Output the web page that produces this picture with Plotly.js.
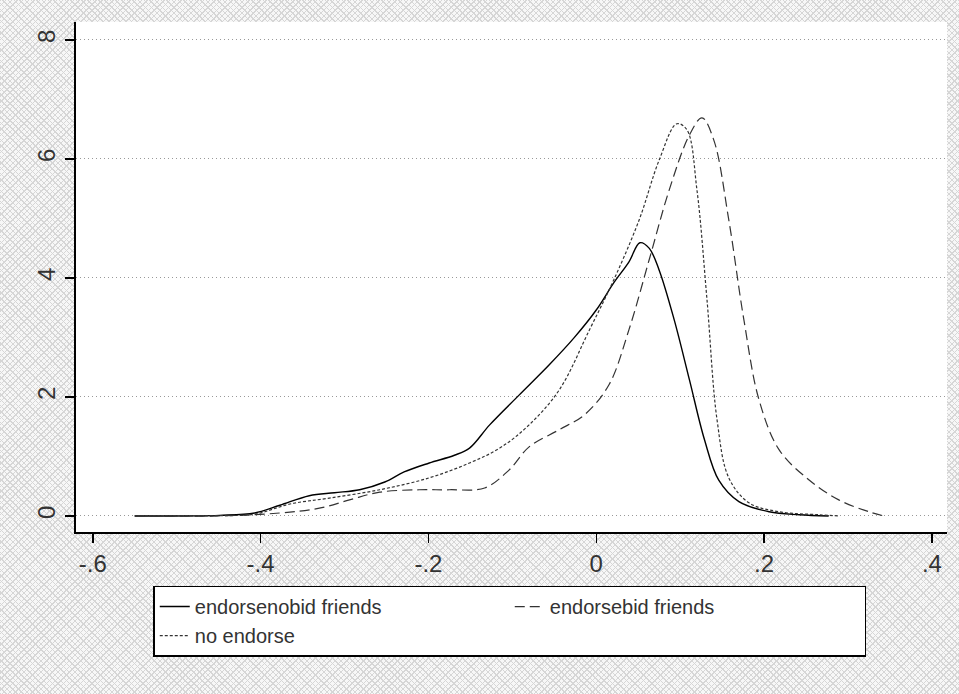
<!DOCTYPE html>
<html><head><meta charset="utf-8">
<script src="https://cdn.plot.ly/plotly-3.0.1.min.js"></script>
<style>
html,body{margin:0;padding:0;}
body{width:959px;height:694px;background-color:#f7f7f7;
background-image:repeating-linear-gradient(45deg,#d6d6d6 0 1px,transparent 1px 4px),repeating-linear-gradient(-45deg,#d6d6d6 0 1px,transparent 1px 4px);}
#chart{width:959px;height:694px;}
</style></head><body>
<div id="chart"></div>
<script>
// kernel density estimates
const nobidX = [-0.55,-0.449,-0.407,-0.377,-0.342,-0.312,-0.282,-0.252,-0.229,-0.199,-0.169,-0.151,-0.127,-0.092,-0.056,-0.026,0,0.021,0.039,0.052,0.063,0.075,0.093,0.111,0.129,0.146,0.17,0.206,0.242,0.277];
const nobidY = [0,0.01,0.05,0.18,0.34,0.39,0.44,0.57,0.74,0.89,1.02,1.14,1.53,2.03,2.54,3.0,3.46,3.92,4.27,4.59,4.5,4.13,3.29,2.29,1.28,0.6,0.24,0.07,0.02,0];
const bidX = [-0.55,-0.45,-0.377,-0.33,-0.294,-0.258,-0.211,-0.175,-0.133,-0.104,-0.08,-0.044,-0.014,0.015,0.039,0.063,0.087,0.111,0.126,0.14,0.158,0.176,0.194,0.218,0.254,0.289,0.325,0.343];
const bidY = [0,0.0,0.05,0.13,0.27,0.4,0.44,0.44,0.47,0.77,1.16,1.45,1.7,2.2,3.13,4.3,5.48,6.4,6.69,6.32,4.97,3.29,1.95,1.11,0.6,0.27,0.07,0];
const noX = [-0.55,-0.45,-0.407,-0.365,-0.318,-0.258,-0.199,-0.151,-0.115,-0.08,-0.044,-0.008,0.021,0.051,0.075,0.096,0.108,0.12,0.132,0.144,0.158,0.182,0.218,0.265,0.289];
const noY = [0,0.005,0.03,0.2,0.3,0.44,0.64,0.89,1.14,1.53,2.12,3.13,3.97,4.97,5.98,6.59,6.49,5.48,3.63,1.61,0.64,0.22,0.07,0.02,0];
const xTicks = [-0.6,-0.4,-0.2,0,0.2,0.4];
const xLabels = ['-.6','-.4','-.2','0','.2','.4'];
const yTicks = [0,2,4,6,8];

const traces = [
  {x: nobidX, y: nobidY, name: 'endorsenobid friends', line: {color: '#000', width: 1.4, shape: 'spline', dash: 'solid'}},
  {x: bidX, y: bidY, name: 'endorsebid friends', line: {color: '#333', width: 1.2, shape: 'spline', dash: '10px,5px'}},
  {x: noX, y: noY, name: 'no endorse', line: {color: '#333', width: 1.2, shape: 'spline', dash: '3px,2px'}}
].map(t => Object.assign({type: 'scatter', mode: 'lines'}, t));

const tf = {family: 'Liberation Sans, Arial, sans-serif', size: 24, color: '#333'};
const layout = {
  width: 959, height: 694,
  margin: {l: 76, r: 12, t: 22, b: 162},
  paper_bgcolor: 'rgba(0,0,0,0)',
  plot_bgcolor: '#fff',
  font: {family: 'Liberation Sans, Arial, sans-serif', size: 19, color: '#333'},
  xaxis: {range: [-0.62, 0.418], tickvals: xTicks, ticktext: xLabels, ticks: 'outside', ticklen: 9, tickfont: tf,
    tickwidth: 1.5, tickcolor: '#000', showgrid: false, zeroline: false, showline: true, linecolor: '#000', linewidth: 2},
  yaxis: {range: [-0.27, 8.3], tickvals: yTicks, ticks: 'outside', ticklen: 9, tickangle: -90, tickfont: tf,
    tickwidth: 1.5, tickcolor: '#000', showgrid: true, gridcolor: '#999', griddash: '1px,3px', gridwidth: 1, zeroline: false,
    showline: true, linecolor: '#000', linewidth: 2},
  showlegend: true,
  legend: {orientation: 'h', x: 0.498, xanchor: 'center', y: -0.105, yanchor: 'top',
    bgcolor: '#fff', bordercolor: '#000', borderwidth: 1.5, entrywidth: 310, entrywidthmode: 'pixels',
    traceorder: 'normal', font: {size: 20, color: '#333'}}
};
Plotly.newPlot('chart', traces, layout, {displayModeBar: false, staticPlot: true});
</script>
</body></html>
